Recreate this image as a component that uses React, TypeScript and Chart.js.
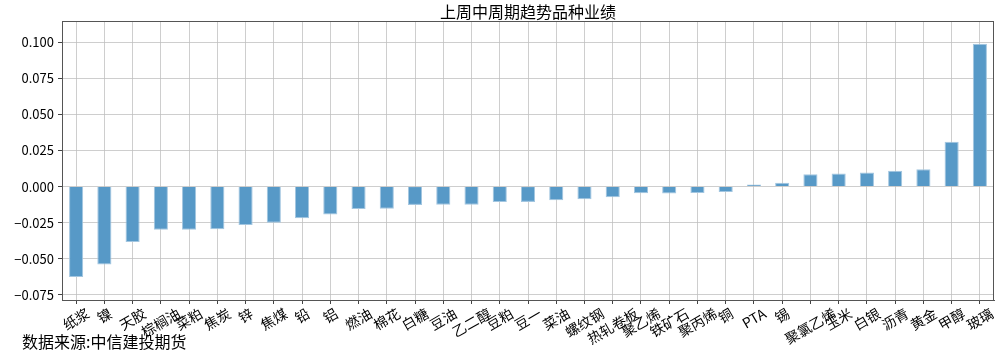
import React, { useEffect, useRef } from "react";
import { Chart, registerables } from "chart.js";

Chart.register(...registerables);

const TITLE = "上周中周期趋势品种业绩";
const SOURCE = "数据来源:中信建投期货";

const categories = [
  "纸浆", "镍", "天胶", "棕榈油", "菜粕", "焦炭", "锌", "焦煤", "铅", "铝",
  "燃油", "棉花", "白糖", "豆油", "乙二醇", "豆粕", "豆一", "菜油", "螺纹钢", "热轧卷板",
  "聚乙烯", "铁矿石", "聚丙烯", "铜", "PTA", "锡", "聚氯乙烯", "玉米", "白银", "沥青",
  "黄金", "甲醇", "玻璃",
];

const returns = [
  -0.0625, -0.054, -0.0383, -0.0299, -0.0299, -0.0296, -0.0266, -0.025, -0.022, -0.0193,
  -0.0155, -0.0153, -0.0127, -0.0125, -0.0125, -0.0106, -0.0106, -0.0095, -0.0088, -0.0074,
  -0.0046, -0.0048, -0.0044, -0.0037, 0.0014, 0.0026, 0.0085, 0.009, 0.0097, 0.0109,
  0.012, 0.031, 0.0988,
];

const yMin = -0.0785;
const yMax = 0.1146;
const yStep = 0.025;

const CJK = "'Noto Sans CJK SC', 'DejaVu Sans', sans-serif";

const decorPlugin = {
  id: "decor",
  afterDraw(chart: any) {
    const { ctx, chartArea } = chart;
    const xScale = chart.scales.x;
    ctx.save();
    // frame
    ctx.strokeStyle = "#555555";
    ctx.lineWidth = 1;
    ctx.strokeRect(chartArea.left + 0.5, chartArea.top + 0.5, chartArea.right - chartArea.left - 1, chartArea.bottom - chartArea.top);
    // x labels, rotated 30°, centered on tick (matplotlib style)
    ctx.font = `14px ${CJK}`;
    ctx.fillStyle = "#000000";
    ctx.textAlign = "center";
    ctx.textBaseline = "middle";
    const ang = Math.PI / 6;
    const top = chartArea.bottom + 6;
    categories.forEach((label, i) => {
      const x = xScale.getPixelForValue(i);
      const w = ctx.measureText(label).width;
      const h = 14;
      const bboxH = w * Math.sin(ang) + h * Math.cos(ang);
      ctx.save();
      ctx.translate(x, top + bboxH / 2);
      ctx.rotate(-ang);
      ctx.fillText(label, 0, 0);
      ctx.restore();
    });
    // title
    ctx.font = `16px ${CJK}`;
    ctx.textAlign = "center";
    ctx.fillText(TITLE, (chartArea.left + chartArea.right) / 2, 12);
    // source
    ctx.font = `16px ${CJK}`;
    ctx.textAlign = "left";
    ctx.fillText(SOURCE, 22, 342);
    ctx.restore();
  },
};

export default function App() {
  const ref = useRef<HTMLCanvasElement | null>(null);
  useEffect(() => {
    if (!ref.current) return;
    const chart = new Chart(ref.current, {
      type: "bar",
      data: {
        labels: categories,
        datasets: [
          {
            data: returns,
            backgroundColor: "#5799c7",
            borderColor: "#a3c6e0",
            borderWidth: 1,
            barPercentage: 0.5,
            categoryPercentage: 1.0,
          },
        ],
      },
      options: {
        animation: false,
        responsive: false,
        maintainAspectRatio: false,
        layout: { padding: { left: 0, right: 9, top: 21, bottom: 0 } },
        plugins: {
          legend: { display: false },
          title: { display: false },
          tooltip: { enabled: false },
        },
        scales: {
          x: {
            z: 1,
            offset: true,
            grid: {
              color: "rgba(190,190,190,0.75)",
              lineWidth: 1,
              offset: false,
              drawTicks: true,
              tickLength: 4,
              tickColor: "#444444",
            },
            border: { display: true, color: "#555555" },
            ticks: { display: false },
            afterFit: (scale: any) => {
              scale.height = 54;
            },
          },
          y: {
            z: 1,
            min: yMin,
            max: yMax,
            grid: {
              color: "rgba(190,190,190,0.75)",
              lineWidth: 1,
              tickLength: 4,
              tickColor: "#444444",
            },
            border: { display: true, color: "#555555" },
            ticks: {
              stepSize: yStep,
              includeBounds: false,
              color: "#000000",
              padding: 4,
              font: { size: 13, family: CJK },
              callback: (v: any) => {
                const n = Number(v);
                const s = Math.abs(n).toFixed(3);
                return n < -1e-9 ? "\u2212" + s : s;
              },
            },
            afterFit: (scale: any) => {
              scale.width = 62;
            },
          },
        },
      },
      plugins: [decorPlugin],
    });
    return () => chart.destroy();
  }, []);
  return (
    <div style={{ position: "fixed", left: 0, top: 0, width: 1003, height: 354, background: "#ffffff" }}>
      <canvas ref={ref} width={1003} height={354} style={{ width: 1003, height: 354 }} />
    </div>
  );
}
